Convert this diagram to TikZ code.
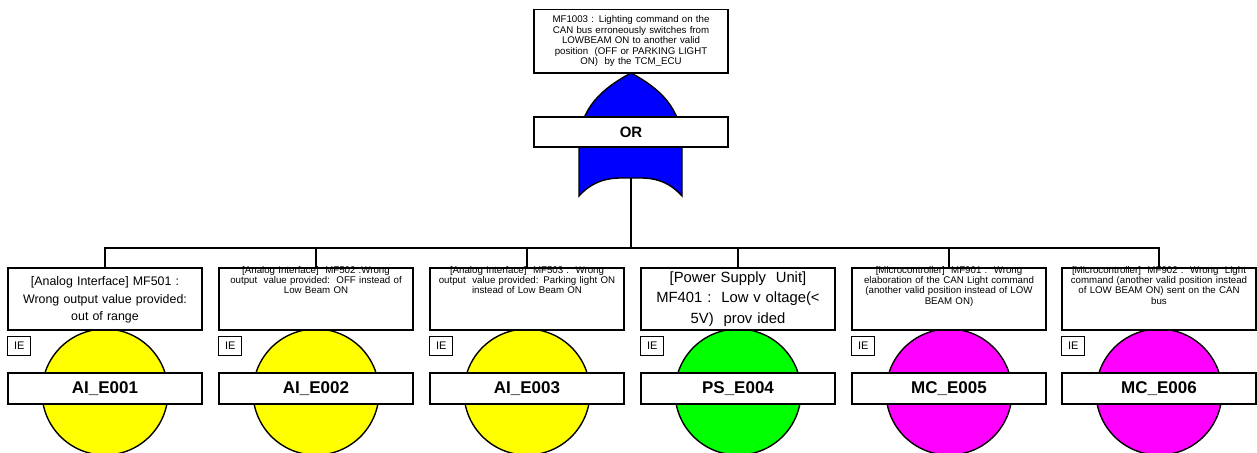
\documentclass[tikz,border=0pt]{standalone}
\usepackage{fontspec}
\setmainfont{Liberation Sans}
\definecolor{gateblue}{RGB}{0,0,255}
\definecolor{evyellow}{RGB}{255,255,0}
\definecolor{evgreen}{RGB}{0,255,0}
\definecolor{evmagenta}{RGB}{255,0,255}
\begin{document}
\begin{tikzpicture}[x=1pt,y=-1pt,
  box/.style={draw=black, line width=1.5pt, fill=white, inner sep=0pt},
  descbox/.style={box, minimum width=194pt, minimum height=62pt, anchor=north},
  smalltxt/.style={font=\fontsize{9.7}{10.3}\selectfont, align=center, text width=190pt, inner sep=0pt, anchor=north},
  labelbox/.style={box, minimum width=194pt, minimum height=31pt, font=\fontsize{17}{20}\selectfont\bfseries},
  iebox/.style={draw=black, line width=1.1pt, fill=white, minimum width=23pt, minimum height=19pt, inner sep=0pt, font=\fontsize{11}{13}\selectfont, anchor=north west},
  eventcirc/.style={circle, draw=black, line width=1.4pt, minimum size=126pt, inner sep=0pt},
  wire/.style={draw=black, line width=1.5pt}
]
\useasboundingbox (0,0) rectangle (1257,452);

% top event
\node[descbox, minimum height=63pt, text width=188pt, align=center,
      font=\fontsize{9.7}{10.6}\selectfont] (top) at (631,9)
  {MF1003 : Lighting command on the\\ CAN bus erroneously switches from\\ LOWBEAM ON to another valid\\ position\ \ (OFF or PARKING LIGHT\\ ON)\ \ by the TCM\_ECU};

% OR gate body
\coordinate (gtip) at (631,73);
\coordinate (gbot) at (631,178);
\fill[gateblue, draw=black, line width=1.4pt]
  (579,196) -- (579,145) .. controls (579,108) and (603,88) .. (gtip)
  .. controls (659,88) and (682,108) .. (682,145) -- (682,196)
  .. controls (664,176) and (645,178) .. (gbot)
  .. controls (617,178) and (597,176) .. (579,196) -- cycle;
\node[box, minimum width=194pt, minimum height=30pt,
      font=\fontsize{15}{18}\selectfont\bfseries] (orgate) at (631,132) {OR};

% basic events
\foreach \k/\cx/\col/\lab in {1/105/evyellow/AI\_E001, 2/316/evyellow/AI\_E002,
    3/527/evyellow/AI\_E003, 4/738/evgreen/PS\_E004,
    5/949/evmagenta/MC\_E005, 6/1159/evmagenta/MC\_E006}{
  \node[eventcirc, fill=\col] (c\k) at (\cx,392) {};
  \node[descbox] (d\k) at (\cx,267) {};
  \node[iebox] (ie\k) at ([yshift=-5pt]d\k.south west) {IE};
  \node[labelbox] (l\k) at (\cx,388.5) {\lab};
}

% description texts
\node[font=\fontsize{12.4}{17.5}\selectfont, align=center, text width=190pt, inner sep=0pt]
  (t1) at ([yshift=-1.5pt]d1.center)
  {[Analog Interface] MF501 :\\ Wrong output value provided:\\ out of range};
\node[smalltxt] (t2) at ([yshift=1pt]d2.north)
  {[Analog Interface]\ \ MF502 :Wrong\\ output\ \ value provided:\ \ OFF instead of\\ Low Beam ON};
\node[smalltxt] (t3) at ([yshift=1pt]d3.north)
  {[Analog Interface]\ \ MF503 :\ \ Wrong\\ output\ \ value provided: Parking light ON\\ instead of Low Beam ON};
\node[font=\fontsize{14.8}{20.5}\selectfont, align=center, text width=190pt, inner sep=0pt]
  (t4) at (d4.center)
  {[Power Supply\ \ Unit]\\ MF401 :\ \ Low v oltage(<\\ 5V)\ \ prov ided};
\node[smalltxt] (t5) at ([yshift=1pt]d5.north)
  {[Microcontroller]\ \ MF901 :\ \ Wrong\\ elaboration of the CAN Light command\\ (another valid position instead of LOW\\ BEAM ON)};
\node[smalltxt] (t6) at ([yshift=1pt]d6.north)
  {[Microcontroller]\ \ MF902 :\ \ Wrong\ \ Light\\ command (another valid position instead\\ of LOW BEAM ON) sent on the CAN\\ bus};

% connectors
\coordinate (bar) at (0,248);
\draw[wire] (gbot) -- (gbot |- bar);
\draw[wire] (d1.north) |- (bar -| d6.north) -- (d6.north);
\foreach \k in {2,...,5}{
  \draw[wire] (d\k.north) -- (d\k.north |- bar);
}
\end{tikzpicture}
\end{document}
